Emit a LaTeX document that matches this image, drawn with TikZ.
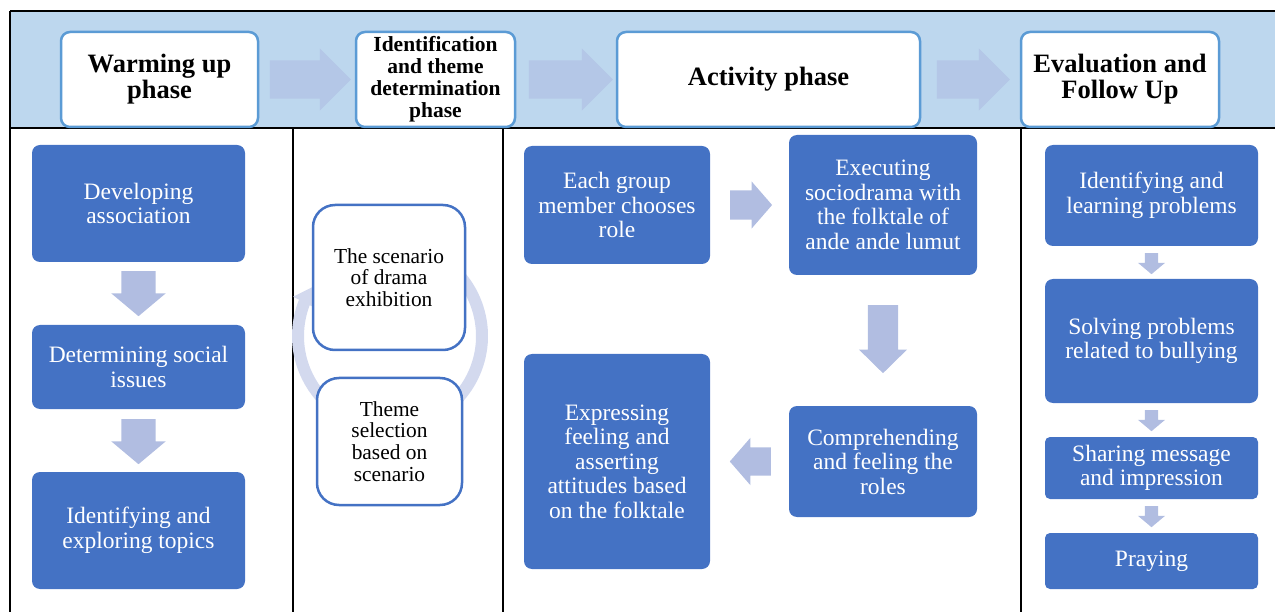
\documentclass[tikz,border=0pt]{standalone}
\usepackage{fontspec}
\setmainfont{Liberation Serif}
\usetikzlibrary{arrows.meta, shapes.arrows, calc, bending}
\definecolor{cband}{HTML}{BDD7EE}
\definecolor{cbandarr}{HTML}{B4C7E7}
\definecolor{cedge}{HTML}{5B9BD5}
\definecolor{cfill}{HTML}{4472C4}
\definecolor{carr}{HTML}{B1BDE1}
\definecolor{cring}{HTML}{D3D9EE}
\tikzset{
  every picture/.style={x=1pt, y=-1pt, line width=1.2pt},
  phase/.style={draw=cedge, fill=white, line width=2.5pt, rounded corners=9pt, align=center, inner sep=2pt,
    minimum height=95pt, font=\fontsize{26.5}{26}\selectfont\bfseries},
  stepbox/.style={fill=cfill, rounded corners=8pt, align=center, inner sep=2pt, text=white,
    font=\fontsize{23.5}{24.5}\selectfont},
  cyc/.style={draw=cfill, fill=white, line width=2.5pt, rounded corners=22pt, align=center, inner sep=2pt,
    font=\fontsize{21.4}{21.7}\selectfont},
  block/.style={single arrow, draw=none, fill=carr, anchor=tail, shape border rotate=#1},
  block/.default=0,
}

\begin{document}
\begin{tikzpicture}[bandarr/.style={block, fill=cbandarr, inner sep=18.5pt, minimum height=#1, single arrow head extend=12pt, single arrow tip angle=90},
  dn/.style={block=270, inner xsep=16.5pt, inner ysep=8pt, minimum height=45pt, single arrow head extend=10pt, single arrow tip angle=100},
  mid/.style={block=#1, inner sep=14pt, minimum height=41pt, single arrow head extend=9pt, single arrow tip angle=98},
  sm/.style={block=270, inner sep=6pt, minimum height=21pt, single arrow head extend=7pt, single arrow tip angle=100}]
  \useasboundingbox (0,0) rectangle (1275,612);
  % table frame
  \fill[cband] (10,11) rectangle (1275,128);
  \draw (10,11) -- (1275,11) (10,128) -- (1275,128);
  \foreach \x/\y in {10/11, 293/128, 503/128, 1021/128} \draw (\x,\y) -- (\x,612);
  % phases
  \node[phase, minimum width=197pt] (warm) at (159.5,79.5) {Warming up\\phase};
  \node[phase, minimum width=159pt, font=\fontsize{21.5}{22}\selectfont\bfseries] (ident) at (435.5,79.5) {Identification\\and theme\\determination\\phase};
  \node[phase, minimum width=303pt] (act) at (768.5,79.5) {Activity phase};
  \node[phase, minimum width=198pt] (eval) at (1120,79.5) {Evaluation and\\Follow Up};
  \node[bandarr=81pt] (ba1) at ($(warm.east)+(10,0)$) {};
  \node[bandarr=84pt] (ba2) at ($(ident.east)+(12,0)$) {};
  \node[bandarr=73pt] (ba3) at ($(act.east)+(15,0)$) {};
  % warming up
  \node[stepbox, minimum width=213pt, minimum height=117pt] (dev) at (138.5,203.5) {Developing\\association};
  \node[stepbox, minimum width=213pt, minimum height=84pt] (soc) at (138.5,367) {Determining social\\issues};
  \node[stepbox, minimum width=213pt, minimum height=117pt] (topic) at (138.5,530.5) {Identifying and\\exploring topics};
  \node[dn] (w1) at ($(dev.south)+(0,8)$) {};
  \node[dn] (w2) at ($(soc.south)+(0,9)$) {};
  % identification cycle
  \draw[cring, line width=12pt, -{Triangle[width=24pt, length=17pt]}] (390,336) ++(-60:92) arc[start angle=-60, end angle=212, radius=92];
  \node[cyc, minimum width=152pt, minimum height=145pt] (scen) at (389,277.5) {The scenario\\of drama\\exhibition};
  \node[cyc, minimum width=145pt, minimum height=127pt] (theme) at (389.5,441.5) {Theme\\selection\\based on\\scenario};
  % activity
  \node[stepbox, minimum width=186pt, minimum height=118pt] (role) at (617,205) {Each group\\member chooses\\role};
  \node[stepbox, minimum width=188pt, minimum height=140pt] (exec) at (883,205) {Executing\\sociodrama with\\the folktale of\\ande ande lumut};
  \node[stepbox, minimum width=188pt, minimum height=111pt] (comp) at (883,461.5) {Comprehending\\and feeling the\\roles};
  \node[stepbox, minimum width=186pt, minimum height=215pt] (expr) at (617,461.5) {Expressing\\feeling and\\asserting\\attitudes based\\on the folktale};
  \node[mid=0, minimum height=40pt] (c1) at ($(role.east)+(19,0)$) {};
  \node[mid=270, inner sep=14.5pt, minimum height=68pt, single arrow tip angle=91] (c2) at ($(exec.south)+(0,29)$) {};
  \node[mid=180, inner sep=13.5pt, single arrow head extend=9.5pt] (c3) at ($(comp.west)+(-17,0)$) {};
  % evaluation
  \node[stepbox, minimum width=213pt, minimum height=101pt] (learn) at (1151.5,195.5) {Identifying and\\learning problems};
  \node[stepbox, minimum width=213pt, minimum height=124pt] (solve) at (1151.5,341) {Solving problems\\related to bullying};
  \node[stepbox, minimum width=213pt, minimum height=62pt, rounded corners=5pt] (share) at (1151.5,468) {Sharing message\\and impression};
  \node[stepbox, minimum width=213pt, minimum height=56pt, rounded corners=5pt] (pray) at (1151.5,561) {Praying};
  \node[sm] (v1) at ($(learn.south)+(0,6)$) {};
  \node[sm] (v2) at ($(solve.south)+(0,6)$) {};
  \node[sm] (v3) at ($(share.south)+(0,6)$) {};
\end{tikzpicture}
\end{document}
